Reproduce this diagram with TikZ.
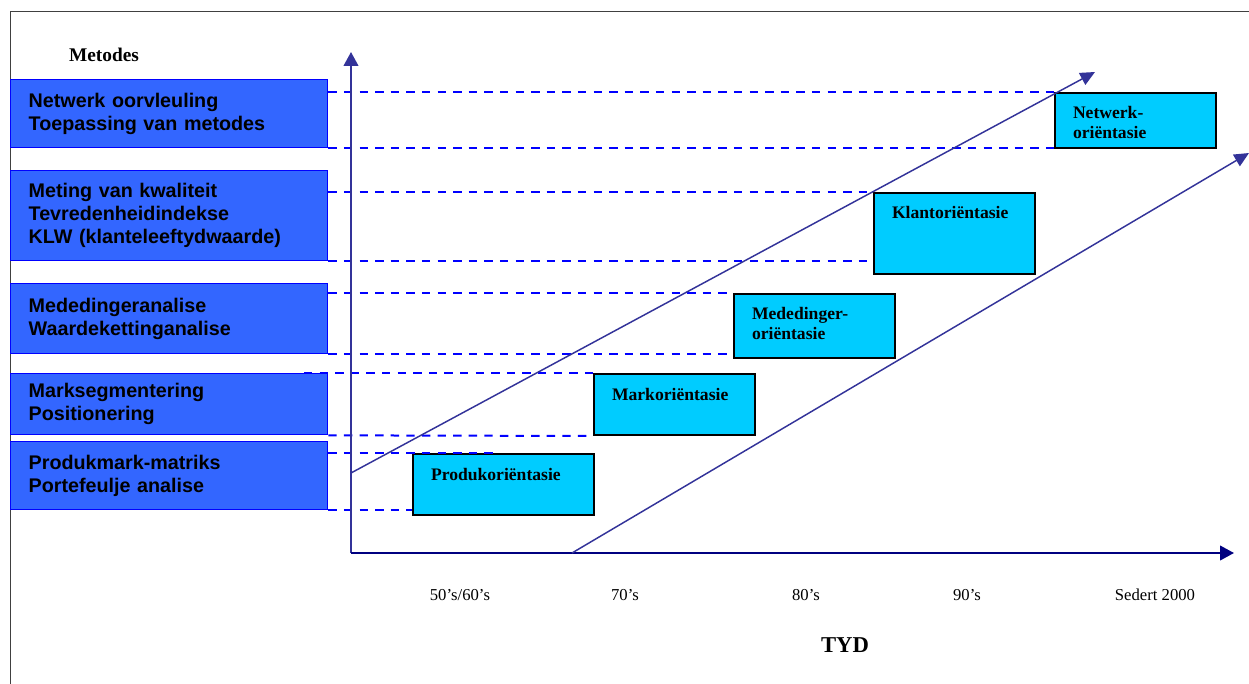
\documentclass[tikz,border=0pt]{standalone}
\usepackage{fontspec}
\setmainfont{Liberation Serif}
\newfontfamily\arialfont{Liberation Sans}
\usetikzlibrary{arrows.meta}
\definecolor{methodblue}{HTML}{3366FF}
\definecolor{phasecyan}{HTML}{00CCFF}
\definecolor{guideblue}{HTML}{0000FF}
\definecolor{trendblue}{HTML}{333399}
\definecolor{axisnavy}{HTML}{000080}
\tikzstyle{method_box}=[rectangle,
                        anchor=north west,
                        draw=guideblue,
                        line width=1pt,
                        fill=methodblue,
                        inner xsep=13.5pt,
                        inner ysep=0pt,
                        text width=210.75pt,
                        align=left,
                        font=\arialfont\bfseries\fontsize{14.8}{17.25}\selectfont ]
\tikzstyle{phase_box}=[rectangle,
                       anchor=north west,
                       draw=black,
                       line width=1.5pt,
                       fill=phasecyan,
                       inner xsep=13.5pt,
                       inner ysep=0pt,
                       text width=93.75pt,
                       text height=19.5pt,
                       align=left,
                       font=\bfseries\fontsize{13.2}{15}\selectfont ]
\tikzstyle{guide_line}=[draw=guideblue, line width=1.5pt, dash pattern=on 6.3pt off 5.4pt]
\tikzstyle{trend_arrow}=[draw=trendblue, line width=1.1pt, -{Triangle[length=11pt,width=10pt]}]
\tikzstyle{axis_label}=[font=\fontsize{12.5}{15}\selectfont]

\begin{document}
\begin{tikzpicture}[x=0.75pt, y=-0.75pt]
  \useasboundingbox (0,0) rectangle (1249,684);
  \coordinate (F1) at (10,684);
  \coordinate (F2) at (10,11);
  \coordinate (F3) at (1249,11);
  \draw[black!75, line width=0.6pt] (F1) -- (F2) -- (F3);

  \node at (104,55) (Metodes) [font=\bfseries\fontsize{14.5}{17}\selectfont] {Metodes};

  \node at (10,79) (M1) [method_box, minimum height=51pt] {Netwerk oorvleuling\\Toepassing van metodes};
  \node at (10,170) (M2) [method_box, minimum height=67.5pt] {Meting van kwaliteit\\Tevredenheidindekse\\KLW (klanteleeftydwaarde)};
  \node at (10,283) (M3) [method_box, minimum height=52.5pt] {Mededingeranalise\\Waardekettinganalise};
  \node at (10,373) (M4) [method_box, minimum height=45.75pt] {Marksegmentering\\Positionering};
  \node at (10,441) (M5) [method_box, minimum height=51pt] {Produkmark-matriks\\Portefeulje analise};

  \node at (412,453) (O1) [phase_box, text width=108.75pt, text depth=26.25pt] {Produkoriëntasie};
  \node at (593,373) (O2) [phase_box, text depth=26.25pt] {Markoriëntasie};
  \node at (733,293) (O3) [phase_box, text depth=28.5pt] {Mededinger-\\oriëntasie};
  \node at (873,192) (O4) [phase_box, text depth=41pt] {Klantoriëntasie};
  \node at (1054,92) (O5) [phase_box, text depth=21.75pt] {Netwerk-\\oriëntasie};

  \draw[guide_line] (M1.east |- O5.north west) -- (O5.north west);
  \draw[guide_line] (M1.south east) -- (O5.west |- M1.south east);
  \draw[guide_line] (M2.east |- O4.north west) -- (O4.north west);
  \draw[guide_line] (M2.south east) -- (O4.west |- M2.south east);
  \draw[guide_line] (M3.east |- O3.north west) -- (O3.north west);
  \draw[guide_line] (M3.south east) -- (O3.west |- M3.south east);
  \coordinate (G7) at (304,373);
  \draw[guide_line] (G7) -- (O2.north west);
  \draw[guide_line] (M4.south east) -- (O2.south west);
  \coordinate (G9) at (493,453);
  \draw[guide_line] (M5.east |- O1.north west) -- (G9);
  \draw[guide_line] (M5.south east) -- (O1.west |- M5.south east);

  \coordinate (origin) at (351,553);
  \coordinate (ytop) at (351,52);
  \coordinate (xend) at (1234,553);
  \draw[draw=trendblue, line width=1.5pt, -{Triangle[length=10.5pt,width=11pt]}] (origin) -- (ytop);
  \draw[draw=axisnavy, line width=1.5pt, -{Triangle[length=10.5pt,width=11pt]}] (origin) -- (xend);

  \coordinate (T1s) at (351,473);
  \coordinate (T1e) at (1095,72);
  \coordinate (T2s) at (572,553);
  \coordinate (T2e) at (1249,153);
  \draw[trend_arrow] (T1s) -- (T1e);
  \draw[trend_arrow] (T2s) -- (T2e);

  \node at (460,595) (L1) [axis_label] {50’s/60’s};
  \node at (625,595) (L2) [axis_label] {70’s};
  \node at (806,595) (L3) [axis_label] {80’s};
  \node at (967,595) (L4) [axis_label] {90’s};
  \node at (1155,595) (L5) [axis_label] {Sedert 2000};
  \node at (845,645) (Tyd) [font=\bfseries\fontsize{17}{19}\selectfont] {TYD};
\end{tikzpicture}
\end{document}
